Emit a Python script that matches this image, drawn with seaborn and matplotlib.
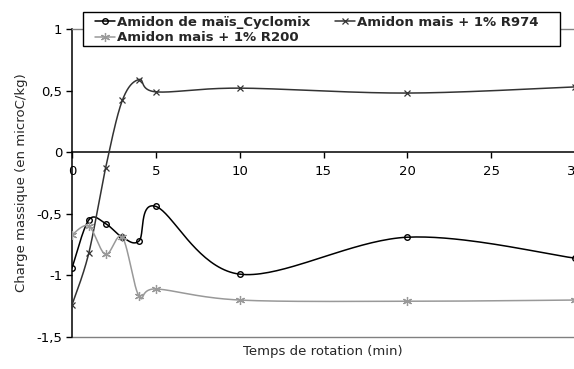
import numpy as np
import pandas as pd
import matplotlib
matplotlib.use("Agg")
import matplotlib.pyplot as plt
from matplotlib.lines import Line2D
from matplotlib.patches import Rectangle
import seaborn as sns

# Measured charge per rotation time
temps = [0, 1, 2, 3, 4, 5, 10, 20, 30]
cyclomix = [-0.94, -0.55, -0.58, -0.69, -0.72, -0.44, -0.99, -0.69, -0.86]
r974 = [-1.24, -0.82, -0.13, 0.42, 0.59, 0.49, 0.52, 0.48, 0.53]
r200 = [-0.67, -0.60, -0.83, -0.69, -1.17, -1.11, -1.20, -1.21, -1.20]

labels = ["Amidon de maïs_Cyclomix", "Amidon mais + 1% R974", "Amidon mais + 1% R200"]
yticks = [1, 0.5, 0, -0.5, -1, -1.5]
xticks = [0, 5, 10, 15, 20, 25, 30]

sns.set_style("white")
plt.rcParams["font.family"] = ["DejaVu Sans"]

W, H = 574, 369
fig = plt.figure(figsize=(W / 100, H / 100), dpi=100)
left, right, top, bottom = 72, 575, 29, 337
ax = fig.add_axes([left / W, 1 - bottom / H, (right - left) / W, (bottom - top) / H])
ax.set_xlim(0, 30)
ax.set_ylim(-1.5, 1)


def smooth(xs, ys, sx, sy, n=40):
    """Bezier smoothing through the points, computed in screen-like units."""
    P = np.column_stack([np.asarray(xs, float) * sx, np.asarray(ys, float) * sy])
    m = len(P)
    out = []
    for i in range(m - 1):
        p0 = P[i - 1] if i > 0 else P[i]
        p1, p2 = P[i], P[i + 1]
        p3 = P[i + 2] if i + 2 < m else P[i + 1]
        c1 = p1 + (p2 - p0) / 6
        c2 = p2 - (p3 - p1) / 6
        t = np.linspace(0, 1, n)[:, None]
        seg = ((1 - t) ** 3) * p1 + 3 * ((1 - t) ** 2) * t * c1 + 3 * (1 - t) * t ** 2 * c2 + t ** 3 * p2
        out.append(seg if i == 0 else seg[1:])
    out = np.vstack(out)
    return out[:, 0] / sx, out[:, 1] / sy


sx = (right - left) / 30
sy = (bottom - top) / 2.5

series = [
    (labels[0], cyclomix, "#000000", "o", 4, 1.0),
    (labels[1], r974, "#333333", "x", 5, 0.9),
    (labels[2], r200, "#999999", (6, 2, 0), 6.5, 0.9),
]

handles = {}
for name, vals, color, marker, ms, mew in series:
    xs, ys = smooth(temps, vals, sx, sy)
    ax.plot(xs, ys, color=color, lw=1.1, zorder=3)
    df = pd.DataFrame({"t": temps, "v": vals})
    sns.lineplot(data=df, x="t", y="v", ax=ax, linestyle="", marker=marker,
                 markersize=ms, markerfacecolor="none", markeredgecolor=color,
                 markeredgewidth=mew, color=color, zorder=4)
    handles[name] = Line2D([], [], color=color, lw=1.1, marker=marker, markersize=ms,
                           markerfacecolor="none", markeredgecolor=color, markeredgewidth=mew)

# Axes styling: y axis at x=0, x axis at y=0, grey frame top and bottom
ax.spines["right"].set_visible(False)
ax.spines["left"].set_color("black")
ax.spines["left"].set_linewidth(1.1)
ax.spines["bottom"].set_position(("data", 0))
ax.spines["bottom"].set_color("black")
ax.spines["bottom"].set_linewidth(1.1)
ax.spines["top"].set_color("#808080")
ax.spines["top"].set_linewidth(1.0)
ax.axhline(-1.5, color="#808080", lw=1.0, zorder=1, clip_on=False)

ax.set_yticks(yticks)
ax.set_yticklabels([f"{v:g}".replace(".", ",") for v in yticks], fontsize=9.5)
ax.set_xticks(xticks)
ax.set_xticklabels([str(v) for v in xticks], fontsize=9.5)
ax.tick_params(axis="both", direction="out", length=4, width=1, colors="black",
               left=True, bottom=True, pad=3)
ax.tick_params(axis="x", pad=5)
ax.set_xlabel("")
ax.set_ylabel("")

fig.text(22 / W, 1 - 183 / H, "Charge massique (en microC/kg)", rotation=90,
         ha="center", va="center", fontsize=9.5)
fig.text(323 / W, 1 - 352 / H, "Temps de rotation (min)", ha="center", va="center", fontsize=9.5)

# Legend box drawn separately so its padding can be wider than tall
box_l, box_t, box_r, box_b = 83, 12, 560, 46
fig.patches.append(Rectangle((box_l / W, 1 - box_b / H), (box_r - box_l) / W, (box_b - box_t) / H,
                             transform=fig.transFigure, facecolor="white", edgecolor="black",
                             lw=1.0, zorder=5))
order = [labels[0], labels[2], labels[1]]
leg = fig.legend([handles[k] for k in order], order, ncol=2,
                 loc="upper left", bbox_to_anchor=(95 / W, 1 - 16 / H),
                 prop={"weight": "bold", "size": 9.5}, frameon=False,
                 handlelength=1.5, handletextpad=0.15, columnspacing=1.9,
                 labelspacing=0.18, borderpad=0, borderaxespad=0)
leg.set_zorder(6)

fig.savefig("out.png", dpi=100)
